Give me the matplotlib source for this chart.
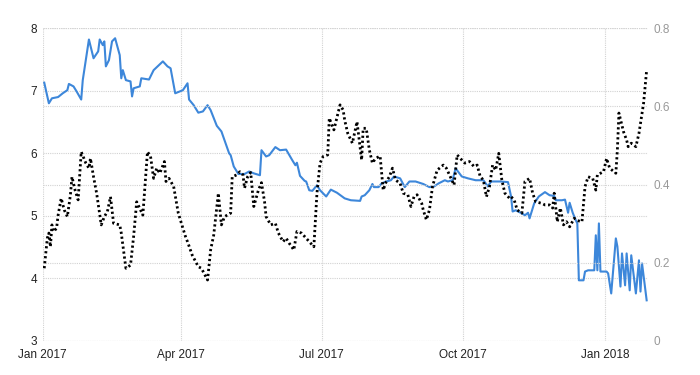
import numpy as np
import pandas as pd
import matplotlib
matplotlib.use("Agg")
import matplotlib.pyplot as plt
import matplotlib.dates as mdates

# blue series, left axis
blue_dates = ["2017-01-02", "2017-01-05", "2017-01-07", "2017-01-11", "2017-01-14", "2017-01-17",
              "2017-01-18", "2017-01-21", "2017-01-23", "2017-01-26", "2017-01-27", "2017-01-31",
              "2017-02-03", "2017-02-06", "2017-02-07", "2017-02-09", "2017-02-10", "2017-02-11",
              "2017-02-13", "2017-02-15", "2017-02-17", "2017-02-20", "2017-02-21", "2017-02-22",
              "2017-02-24", "2017-02-27", "2017-02-28", "2017-03-01", "2017-03-05", "2017-03-06",
              "2017-03-11", "2017-03-14", "2017-03-20", "2017-03-23", "2017-03-25", "2017-03-28",
              "2017-04-02", "2017-04-05", "2017-04-06", "2017-04-09", "2017-04-12", "2017-04-15",
              "2017-04-18", "2017-04-20", "2017-04-24", "2017-04-27", "2017-05-02", "2017-05-03",
              "2017-05-05", "2017-05-08", "2017-05-12", "2017-05-15", "2017-05-18", "2017-05-22",
              "2017-05-23", "2017-05-26", "2017-05-28", "2017-06-01", "2017-06-04", "2017-06-08",
              "2017-06-12", "2017-06-14", "2017-06-15", "2017-06-17", "2017-06-20", "2017-06-21",
              "2017-06-23", "2017-06-25", "2017-06-28", "2017-06-30", "2017-07-04", "2017-07-07",
              "2017-07-11", "2017-07-16", "2017-07-20", "2017-07-26", "2017-07-27", "2017-07-29",
              "2017-08-01", "2017-08-03", "2017-08-04", "2017-08-07", "2017-08-09", "2017-08-12",
              "2017-08-15", "2017-08-17", "2017-08-21", "2017-08-24", "2017-08-27", "2017-08-31",
              "2017-09-05", "2017-09-09", "2017-09-12", "2017-09-15", "2017-09-19", "2017-09-21",
              "2017-09-24", "2017-09-26", "2017-09-30", "2017-10-04", "2017-10-09", "2017-10-14",
              "2017-10-17", "2017-10-19", "2017-10-25", "2017-10-30", "2017-11-01", "2017-11-02",
              "2017-11-04", "2017-11-08", "2017-11-10", "2017-11-12", "2017-11-13", "2017-11-16",
              "2017-11-19", "2017-11-23", "2017-11-26", "2017-11-29", "2017-11-30", "2017-12-04",
              "2017-12-06", "2017-12-08", "2017-12-09", "2017-12-11", "2017-12-13", "2017-12-14",
              "2017-12-15", "2017-12-18", "2017-12-19", "2017-12-21", "2017-12-25", "2017-12-26",
              "2017-12-27", "2017-12-28", "2017-12-29", "2018-01-02", "2018-01-03", "2018-01-05",
              "2018-01-08", "2018-01-09", "2018-01-11", "2018-01-12", "2018-01-14", "2018-01-15",
              "2018-01-17", "2018-01-18", "2018-01-21", "2018-01-23", "2018-01-24", "2018-01-25",
              "2018-01-28"]
blue_vals = [7.13, 6.80, 6.88, 6.90, 6.96, 7.01,
             7.11, 7.07, 6.99, 6.86, 7.17, 7.82,
             7.52, 7.63, 7.82, 7.73, 7.79, 7.39,
             7.49, 7.79, 7.84, 7.57, 7.20, 7.33,
             7.17, 7.15, 6.91, 7.04, 7.07, 7.20,
             7.18, 7.33, 7.47, 7.39, 7.36, 6.96,
             7.01, 7.12, 6.86, 6.77, 6.65, 6.67,
             6.77, 6.69, 6.44, 6.35, 6.00, 5.97,
             5.79, 5.67, 5.67, 5.71, 5.68, 5.65,
             6.05, 5.95, 5.97, 6.10, 6.05, 6.06,
             5.89, 5.81, 5.85, 5.64, 5.56, 5.55,
             5.41, 5.40, 5.49, 5.41, 5.31, 5.42,
             5.37, 5.28, 5.25, 5.24, 5.31, 5.33,
             5.41, 5.51, 5.46, 5.46, 5.52, 5.55,
             5.57, 5.63, 5.60, 5.46, 5.55, 5.55,
             5.51, 5.46, 5.47, 5.52, 5.57, 5.55,
             5.57, 5.76, 5.63, 5.60, 5.57, 5.57,
             5.47, 5.55, 5.55, 5.54, 5.31, 5.07,
             5.09, 5.04, 5.01, 5.05, 4.96, 5.20,
             5.31, 5.38, 5.33, 5.32, 5.25, 5.25,
             5.26, 5.05, 5.21, 5.05, 4.93, 4.88,
             3.97, 3.97, 4.11, 4.13, 4.13, 4.69,
             4.13, 4.88, 4.11, 4.11, 4.08, 3.76,
             4.64, 4.51, 3.87, 4.40, 3.89, 4.40,
             3.81, 4.37, 3.76, 4.29, 3.79, 4.24,
             3.65]

# black dotted series, right axis
black_dates = ["2017-01-02", "2017-01-04", "2017-01-05", "2017-01-06", "2017-01-07", "2017-01-08",
               "2017-01-10", "2017-01-11", "2017-01-13", "2017-01-15", "2017-01-17", "2017-01-19",
               "2017-01-20", "2017-01-22", "2017-01-24", "2017-01-26", "2017-01-29", "2017-01-31",
               "2017-02-01", "2017-02-03", "2017-02-05", "2017-02-08", "2017-02-10", "2017-02-12",
               "2017-02-14", "2017-02-16", "2017-02-20", "2017-02-21", "2017-02-24", "2017-02-27",
               "2017-03-01", "2017-03-03", "2017-03-05", "2017-03-07", "2017-03-10", "2017-03-12",
               "2017-03-14", "2017-03-16", "2017-03-18", "2017-03-21", "2017-03-22", "2017-03-24",
               "2017-03-27", "2017-03-30", "2017-04-04", "2017-04-05", "2017-04-08", "2017-04-12",
               "2017-04-14", "2017-04-18", "2017-04-20", "2017-04-22", "2017-04-25", "2017-04-27",
               "2017-04-29", "2017-05-03", "2017-05-04", "2017-05-07", "2017-05-09", "2017-05-11",
               "2017-05-12", "2017-05-14", "2017-05-16", "2017-05-18", "2017-05-21", "2017-05-23",
               "2017-05-25", "2017-05-26", "2017-05-29", "2017-06-01", "2017-06-03", "2017-06-06",
               "2017-06-08", "2017-06-10", "2017-06-13", "2017-06-15", "2017-06-18", "2017-06-21",
               "2017-06-23", "2017-06-26", "2017-06-28", "2017-06-30", "2017-07-02", "2017-07-05",
               "2017-07-06", "2017-07-09", "2017-07-13", "2017-07-15", "2017-07-16", "2017-07-18",
               "2017-07-21", "2017-07-24", "2017-07-27", "2017-07-28", "2017-07-30", "2017-08-01",
               "2017-08-03", "2017-08-05", "2017-08-08", "2017-08-10", "2017-08-12", "2017-08-14",
               "2017-08-16", "2017-08-18", "2017-08-21", "2017-08-23", "2017-08-26", "2017-08-28",
               "2017-08-30", "2017-09-01", "2017-09-04", "2017-09-05", "2017-09-07", "2017-09-09",
               "2017-09-11", "2017-09-14", "2017-09-18", "2017-09-20", "2017-09-22", "2017-09-25",
               "2017-09-27", "2017-09-30", "2017-10-02", "2017-10-05", "2017-10-08", "2017-10-10",
               "2017-10-12", "2017-10-14", "2017-10-16", "2017-10-18", "2017-10-20", "2017-10-22",
               "2017-10-24", "2017-10-26", "2017-10-28", "2017-10-31", "2017-11-01", "2017-11-03",
               "2017-11-05", "2017-11-08", "2017-11-10", "2017-11-13", "2017-11-15", "2017-11-17",
               "2017-11-21", "2017-11-23", "2017-11-26", "2017-11-28", "2017-11-29", "2017-12-01",
               "2017-12-03", "2017-12-05", "2017-12-07", "2017-12-09", "2017-12-12", "2017-12-14",
               "2017-12-17", "2017-12-19", "2017-12-21", "2017-12-24", "2017-12-26", "2017-12-27",
               "2017-12-31", "2018-01-02", "2018-01-04", "2018-01-08", "2018-01-09", "2018-01-10",
               "2018-01-13", "2018-01-15", "2018-01-16", "2018-01-18", "2018-01-21", "2018-01-23",
               "2018-01-26", "2018-01-28"]
black_vals = [0.186, 0.263, 0.276, 0.241, 0.297, 0.280,
              0.288, 0.322, 0.365, 0.335, 0.318, 0.374,
              0.420, 0.386, 0.361, 0.484, 0.455, 0.442,
              0.467, 0.420, 0.378, 0.297, 0.318, 0.331,
              0.369, 0.301, 0.297, 0.276, 0.186, 0.194,
              0.267, 0.356, 0.339, 0.322, 0.484, 0.472,
              0.416, 0.442, 0.429, 0.459, 0.408, 0.416,
              0.395, 0.327, 0.263, 0.254, 0.220, 0.190,
              0.186, 0.156, 0.233, 0.271, 0.378, 0.297,
              0.318, 0.327, 0.420, 0.425, 0.433, 0.425,
              0.391, 0.420, 0.431, 0.344, 0.386, 0.405,
              0.356, 0.318, 0.297, 0.301, 0.276, 0.254,
              0.263, 0.250, 0.233, 0.280, 0.276, 0.263,
              0.254, 0.241, 0.378, 0.455, 0.472, 0.476,
              0.570, 0.540, 0.604, 0.591, 0.565, 0.531,
              0.506, 0.561, 0.463, 0.544, 0.544, 0.489,
              0.455, 0.467, 0.473, 0.386, 0.408, 0.420,
              0.442, 0.412, 0.403, 0.378, 0.374, 0.344,
              0.369, 0.374, 0.352, 0.335, 0.310, 0.335,
              0.395, 0.437, 0.450, 0.442, 0.425, 0.399,
              0.476, 0.463, 0.455, 0.459, 0.446, 0.450,
              0.420, 0.412, 0.369, 0.395, 0.450, 0.437,
              0.480, 0.412, 0.378, 0.365, 0.369, 0.361,
              0.335, 0.327, 0.408, 0.416, 0.378, 0.356,
              0.352, 0.348, 0.348, 0.340, 0.378, 0.305,
              0.340, 0.297, 0.305, 0.292, 0.314, 0.308,
              0.305, 0.395, 0.420, 0.416, 0.386, 0.425,
              0.433, 0.467, 0.442, 0.429, 0.489, 0.583,
              0.535, 0.514, 0.497, 0.506, 0.497, 0.531,
              0.608, 0.693]

left_ticks = [3, 4, 5, 6, 7, 8]
right_ticks = [0, 0.2, 0.4, 0.6, 0.8]
right_labels = ["0", "0.2", "0.4", "0.6", "0.8"]
x_ticks = ["2017-01-01", "2017-04-01", "2017-07-01", "2017-10-01", "2018-01-01"]

plt.rcParams["font.family"] = ["Liberation Sans", "DejaVu Sans"]

bd = pd.to_datetime(blue_dates)
kd = pd.to_datetime(black_dates)

fig = plt.figure(figsize=(7, 3.75), dpi=100)
ax = fig.add_axes([0.061, 0.0907, 0.865, 0.834])
ax2 = ax.twinx()

grid_kw = dict(color="#d2d2d2", linestyle=(0, (1, 1)), linewidth=0.8)

ax.plot(bd, blue_vals, color="#3d87da", linewidth=1.5, zorder=3)
ax2.plot(kd, black_vals, color="black", linewidth=2.0,
         linestyle=(0, (0.8, 1.0)), zorder=4)

ax.set_xlim(pd.Timestamp("2017-01-01"), pd.Timestamp("2018-01-29"))
ax.set_ylim(3, 8)
ax2.set_ylim(0, 0.8)

ax.set_xticks(pd.to_datetime(x_ticks))
ax.xaxis.set_major_formatter(mdates.DateFormatter("%b %Y"))
ax.set_yticks(left_ticks)
ax2.set_yticks(right_ticks)
ax2.set_yticklabels(right_labels)

ax.grid(True, **grid_kw)
ax2.grid(True, axis="y", **grid_kw)
ax.set_axisbelow(True)
ax2.set_axisbelow(True)

for a in (ax, ax2):
    for s in a.spines.values():
        s.set_visible(False)

ax.tick_params(axis="x", length=0, pad=6, labelsize=8.5, colors="#222222")
ax.tick_params(axis="y", length=0, pad=4, labelsize=8.5, colors="#222222")
ax2.tick_params(axis="y", length=0, pad=4, labelsize=8.5, colors="#999999")

fig.savefig("out.png", dpi=100)
